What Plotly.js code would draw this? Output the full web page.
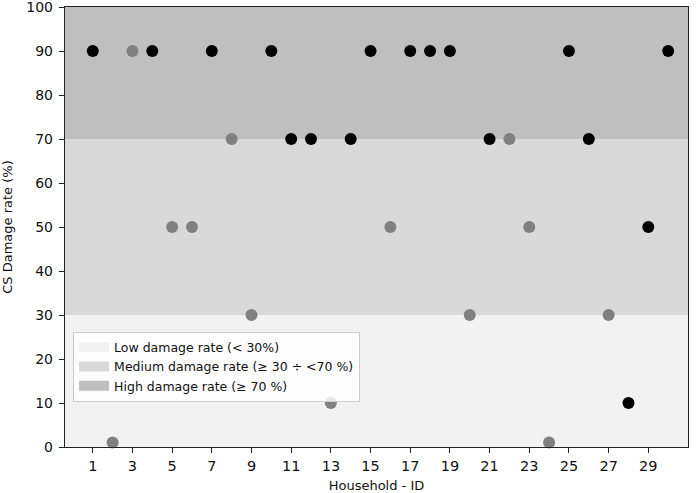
<!DOCTYPE html>
<html>
<head>
<meta charset="utf-8">
<script src="https://cdn.plot.ly/plotly-3.0.1.min.js"></script>
<style>
  html, body { margin: 0; padding: 0; background: #fff; }
  #plot { width: 698px; height: 493px; }
</style>
</head>
<body>
<div id="plot"></div>
<script>
// household ids and the CS damage rate
var householdId = [1, 2, 3, 4, 5, 6, 7, 8, 9, 10, 11, 12, 13, 14, 15,
                   16, 17, 18, 19, 20, 21, 22, 23, 24, 25, 26, 27, 28, 29, 30];
var damageRate = [90, 1, 90, 90, 50, 50, 90, 70, 30, 90, 70, 70, 10, 70, 90,
                  50, 90, 90, 90, 30, 70, 70, 50, 1, 90, 70, 30, 10, 50, 90];
// 1 = black point, 0 = grey point
var isBlack = [1, 0, 0, 1, 0, 0, 1, 0, 0, 1, 1, 1, 0, 1, 1,
               0, 1, 1, 1, 0, 1, 0, 0, 0, 1, 1, 0, 1, 1, 1];

// damage classes (bands)
var bandNames = ["Low damage rate (< 30%)", "Medium damage rate (\u2265 30 \u00f7 <70 %)", "High damage rate (\u2265 70 %)"];
var bandLow = [0, 30, 70];
var bandHigh = [30, 70, 100];
var bandColors = ["#f2f2f2", "#d9d9d9", "#bfbfbf"];

var xTicks = [1, 3, 5, 7, 9, 11, 13, 15, 17, 19, 21, 23, 25, 27, 29];
var xRange = [-0.4, 31];

var traces = [];

// bands as filled polygons (clipped by the plot area)
for (var b = 0; b < bandNames.length; b++) {
    traces.push({
        x: [xRange[0] - 2, xRange[1] + 2, xRange[1] + 2, xRange[0] - 2, xRange[0] - 2],
        y: [bandLow[b], bandLow[b], bandHigh[b], bandHigh[b], bandLow[b]],
        type: "scatter",
        mode: "lines",
        fill: "toself",
        fillcolor: bandColors[b],
        line: { width: 0, color: bandColors[b] },
        showlegend: false,
        hoverinfo: "skip"
    });
}

// legend-only entries, thick line gives a box-like swatch
for (var k = 0; k < bandNames.length; k++) {
    traces.push({
        x: [null], y: [null],
        type: "scatter",
        mode: "lines",
        line: { width: 10, color: bandColors[k] },
        name: bandNames[k]
    });
}

// points split by colour
var xg = [], yg = [], xb = [], yb = [];
for (var i = 0; i < householdId.length; i++) {
    if (isBlack[i]) { xb.push(householdId[i]); yb.push(damageRate[i]); }
    else { xg.push(householdId[i]); yg.push(damageRate[i]); }
}
traces.push({
    x: xg, y: yg, type: "scatter", mode: "markers",
    marker: { color: "#808080", size: 12 },
    showlegend: false, cliponaxis: false
});
traces.push({
    x: xb, y: yb, type: "scatter", mode: "markers",
    marker: { color: "#000000", size: 12 },
    showlegend: false, cliponaxis: false
});

var layout = {
    width: 698,
    height: 493,
    margin: { l: 65, r: 10, t: 7, b: 46 },
    paper_bgcolor: "#ffffff",
    plot_bgcolor: "#ffffff",
    font: { family: "DejaVu Sans", color: "#111", size: 13 },
    xaxis: {
        range: xRange,
        tickvals: xTicks,
        ticks: "outside",
        ticklen: 5,
        tickcolor: "#222",
        showgrid: false,
        zeroline: false,
        showline: true,
        mirror: true,
        linecolor: "#222",
        linewidth: 1.2,
        tickfont: { size: 14.5 },
        title: { text: "Household - ID", font: { size: 13 }, standoff: 8 }
    },
    yaxis: {
        range: [0, 100],
        dtick: 10,
        ticks: "outside",
        ticklen: 5,
        tickcolor: "#222",
        showgrid: false,
        zeroline: false,
        showline: true,
        mirror: true,
        linecolor: "#222",
        linewidth: 1.2,
        ticklabeloverflow: "allow",
        ticklabelstandoff: 3,
        tickfont: { size: 14 },
        title: { text: "CS Damage rate (%)", font: { size: 13 }, standoff: 10 }
    },
    legend: {
        x: 0.013,
        y: 0.262,
        xanchor: "left",
        yanchor: "top",
        bgcolor: "rgba(255,255,255,0.8)",
        bordercolor: "#cccccc",
        borderwidth: 1,
        font: { size: 12.5 },
        tracegroupgap: 0
    },
    showlegend: true
};

Plotly.newPlot("plot", traces, layout, { displayModeBar: false, staticPlot: true });
</script>
</body>
</html>
